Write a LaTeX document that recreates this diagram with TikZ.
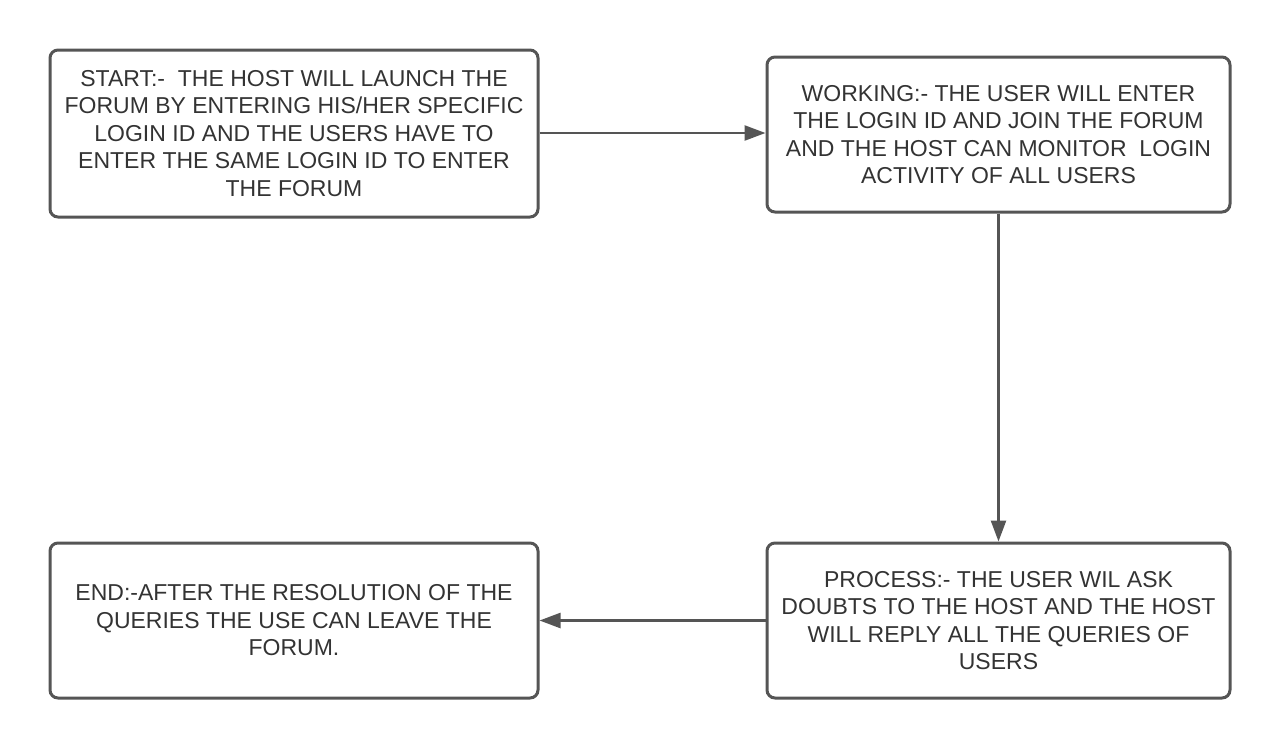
\documentclass[tikz,border=0pt]{standalone}
\usepackage{fontspec}
\setmainfont{Liberation Sans}
\usetikzlibrary{arrows.meta}
\definecolor{boxline}{HTML}{555555}
\definecolor{txt}{HTML}{333333}
\begin{document}
\begin{tikzpicture}[x=1pt,y=-1pt,
  stepbox/.style={draw=boxline, line width=3pt, rounded corners=8pt, fill=white,
    align=center, text=txt, inner sep=0pt,
    font=\fontsize{23}{27.5}\selectfont},
  conn/.style={draw=boxline, line width=2.5pt,
    -{Triangle[length=21pt,width=15pt]}}]
\useasboundingbox[fill=white] (0,0) rectangle (1280,748);
\node[stepbox, minimum width=488pt, minimum height=167pt] (A) at (294,133.5)
  {START:-\ \ THE HOST WILL LAUNCH THE\\FORUM BY ENTERING HIS/HER SPECIFIC\\LOGIN ID AND THE USERS HAVE TO\\ENTER THE SAME LOGIN ID TO ENTER\\THE FORUM};
\node[stepbox, minimum width=463pt, minimum height=155pt] (B) at (998.5,134.5)
  {WORKING:- THE USER WILL ENTER\\THE LOGIN ID AND JOIN THE FORUM\\AND THE HOST CAN MONITOR\ \ LOGIN\\ACTIVITY OF ALL USERS};
\node[stepbox, minimum width=463pt, minimum height=155pt] (C) at (998.5,620.5)
  {PROCESS:- THE USER WIL ASK\\DOUBTS TO THE HOST AND THE HOST\\WILL REPLY ALL THE QUERIES OF\\USERS};
\node[stepbox, minimum width=488pt, minimum height=155pt] (D) at (294,620.5)
  {END:-AFTER THE RESOLUTION OF THE\\QUERIES THE USE CAN LEAVE THE\\FORUM.};
\draw[conn] (A.east |- 0,133) -- (B.west |- 0,133);
\draw[conn] (B.south) -- (C.north);
\draw[conn] (C.west) -- (D.east);
\end{tikzpicture}
\end{document}
